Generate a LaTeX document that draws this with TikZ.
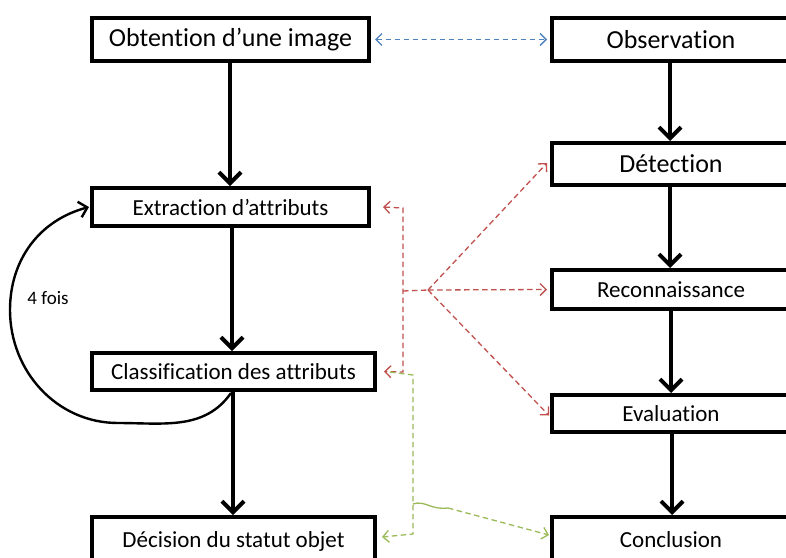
\documentclass[tikz,border=0pt]{standalone}
\usepackage{fontspec}
\setmainfont{Carlito}[RawFeature={-liga;-clig;-dlig;-calt}]
\usetikzlibrary{arrows.meta}
\definecolor{cblue}{HTML}{4F81BD}
\definecolor{cred}{HTML}{C0504D}
\definecolor{cgreen}{HTML}{9BBB59}
\tikzset{
  box/.style={draw=black, line width=4pt, fill=white, rectangle, inner sep=0pt, align=center},
  bigtext/.style={font=\fontsize{26}{30}\selectfont},
  midtext/.style={font=\fontsize{23}{27}\selectfont},
  flow/.style={line width=4pt, -{Straight Barb[length=11pt,width=22pt,line width=4pt]}},
  loopline/.style={line width=2.4pt, -{Straight Barb[length=8pt,width=16pt,line width=2.4pt]}},
  dline/.style={line width=1.3pt, dash pattern=on 5.5pt off 3.5pt},
  dtip/.style={-{Straight Barb[length=6pt,width=12pt,line width=1.3pt]}},
  dtips/.style={{Straight Barb[length=6pt,width=12pt,line width=1.3pt]}-{Straight Barb[length=6pt,width=12pt,line width=1.3pt]}},
}
\begin{document}
\begin{tikzpicture}[x=1pt,y=-1pt]
\useasboundingbox (0,0) rectangle (786,557);
\clip (0,0) rectangle (786,557);
\fill[white] (0,0) rectangle (786,557);
% left column
\node[box,bigtext,minimum width=277,minimum height=43] (obt) at (230.5,39.5) {Obtention d’une image};
\node[box,midtext,minimum width=277,minimum height=38] (ext) at (230.5,207) {Extraction d’attributs};
\node[box,midtext,minimum width=283,minimum height=37] (cls) at (233.5,371.5) {Classification des attributs};
\node[box,midtext,minimum width=283,minimum height=50,text depth=0pt] (dec) at (233.5,542) {\raisebox{4pt}{Décision du statut objet}};
% right column
\node[box,bigtext,minimum width=238,minimum height=43] (obs) at (671,39.5) {Observation};
\node[box,bigtext,minimum width=238,minimum height=42] (det) at (671,164) {Détection};
\node[box,midtext,minimum width=238,minimum height=39] (rec) at (671,289.5) {Reconnaissance};
\node[box,midtext,minimum width=238,minimum height=37] (eva) at (671,413.5) {Evaluation};
\node[box,midtext,minimum width=238,minimum height=50] (con) at (671,542) {\raisebox{4pt}{Conclusion}};
% black flow arrows
\draw[flow] (230,61) -- (230,186);
\draw[flow] (232,226) -- (232,351);
\draw[flow] (233,390) -- (233,515);
\draw[flow] (670,61) -- (670,141);
\draw[flow] (670,185) -- (670,268);
\draw[flow] (671,309) -- (671,393);
\draw[flow] (672,432) -- (672,515);
% loop
\coordinate (ls) at (231,393);
\draw[loopline] (ls) to[out=235,in=0] (118,423) to[out=180,in=270] (10,310) to[out=90,in=195] ([xshift=-1pt]ext.west);
\node[font=\fontsize{19}{22}\selectfont, anchor=center] (four) at (48,298) {4 fois};
% blue dashed
\draw[cblue,dline,dtips] ([xshift=4pt]obt.east) -- ([xshift=-3pt]obs.west);
% red dashed
\coordinate (rt) at (403,208);
\coordinate (rb) at (403,372);
\coordinate (rm) at (403,291);
\coordinate (hub) at (428,290);
\draw[cred,dline,dtips] ([xshift=12pt,yshift=0pt]ext.east) -- (rt) -- (rb) -- ([xshift=7pt]cls.east);
\draw[cred,dline] (rm) -- (hub);
\draw[cred,dline,dtip] (hub) -- ([xshift=-3pt,yshift=1pt]det.west);
\draw[cred,dline,dtip] (hub) -- ([xshift=-3pt]rec.west);
\draw[cred,dline,dtip] (hub) -- ([xshift=-1pt,yshift=-2pt]eva.west);
% green dashed
\coordinate (g0) at (390,372);
\coordinate (g1) at (413,375);
\coordinate (g2) at (413,534);
\coordinate (g3) at (413,504);
\coordinate (g4) at (448,508);
\draw[cgreen,dline,dtip] (g0) -- (g1) -- (g2) -- (382,537);
\draw[cgreen,line width=1.3pt] (g3) .. controls (425,500) and (430,510) .. (g4);
\draw[cgreen,dline,dtip] (g4) -- (549,535);
\end{tikzpicture}
\end{document}
